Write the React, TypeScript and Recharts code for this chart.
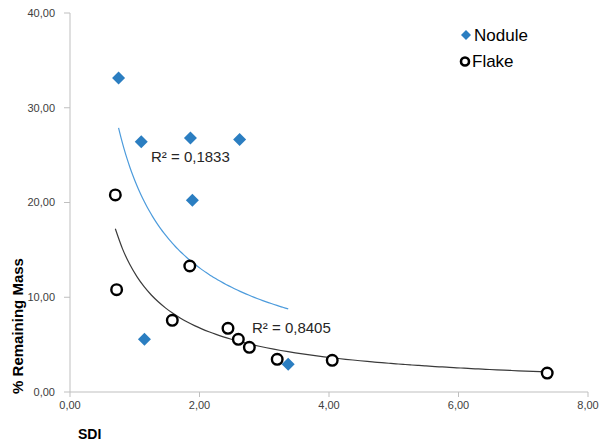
import { Scatter, ScatterChart, XAxis, YAxis } from 'recharts'

// SDI vs % remaining mass
const noduleSdi = [0.75, 1.1, 1.86, 2.62, 1.89, 1.15, 3.37]
const noduleMass = [33.15, 26.4, 26.8, 26.65, 20.25, 5.56, 2.92]
const flakeSdi = [0.7, 0.72, 1.85, 1.58, 2.44, 2.6, 2.77, 3.2, 4.05, 7.37]
const flakeMass = [20.8, 10.8, 13.3, 7.56, 6.72, 5.56, 4.71, 3.45, 3.34, 2.0]
const xTicks = [0, 2, 4, 6, 8]
const yTicks = [0, 10, 20, 30, 40]
const noduleR2 = 'R² = 0,1833'
const flakeR2 = 'R² = 0,8405'

const BLUE = '#2B7EC1'
const BLUE_LINE = '#4C9BDC'
const INK = '#000000'
const FONT = '"Liberation Sans", Arial, sans-serif'

type Pt = { x: number; y: number }

const toPoints = (xs: number[], ys: number[]): Pt[] =>
  xs.map((x, i) => ({ x, y: ys[i] }))

// Excel-style power trendline: least squares on ln(x), ln(y)
function powerTrend(pts: Pt[], steps = 60): Pt[] {
  const lx = pts.map((p) => Math.log(p.x))
  const ly = pts.map((p) => Math.log(p.y))
  const mx = lx.reduce((s, v) => s + v, 0) / lx.length
  const my = ly.reduce((s, v) => s + v, 0) / ly.length
  let sxy = 0
  let sxx = 0
  lx.forEach((v, i) => {
    sxy += (v - mx) * (ly[i] - my)
    sxx += (v - mx) * (v - mx)
  })
  const b = sxy / sxx
  const a = Math.exp(my - b * mx)
  const lo = Math.min(...pts.map((p) => p.x))
  const hi = Math.max(...pts.map((p) => p.x))
  const out: Pt[] = []
  for (let i = 0; i <= steps; i++) {
    const x = lo + ((hi - lo) * i) / steps
    out.push({ x, y: a * Math.pow(x, b) })
  }
  return out
}

const nodule = toPoints(noduleSdi, noduleMass)
const flake = toPoints(flakeSdi, flakeMass)
const noduleTrend = powerTrend(nodule)
const flakeTrend = powerTrend(flake)

const fmt = (v: number) => v.toFixed(2).replace('.', ',')

const Diamond = ({ cx, cy, r = 6.5 }: any) => (
  <polygon
    points={`${cx},${cy - r} ${cx + r},${cy} ${cx},${cy + r} ${cx - r},${cy}`}
    fill={BLUE}
  />
)

const Ring = ({ cx, cy, r = 5.3 }: any) => (
  <circle cx={cx} cy={cy} r={r} fill='#fff' stroke={INK} strokeWidth={2.4} />
)

const NoShape = () => <g />

export default function App() {
  return (
    <div style={{ position: 'absolute', left: 0, top: 0, width: 599, height: 444 }}>
      <ScatterChart
        width={599}
        height={444}
        margin={{ top: 13, right: 11, bottom: 22, left: 10 }}
        style={{ fontFamily: FONT }}
      >
        <XAxis
          type='number'
          dataKey='x'
          domain={[0, 8]}
          ticks={xTicks}
          tickFormatter={fmt}
          height={30}
          tickSize={5}
          tickMargin={4}
          stroke='#BFBFBF'
          tick={{ fill: '#404040', fontSize: 11 }}
          allowDataOverflow
        />
        <YAxis
          type='number'
          dataKey='y'
          domain={[0, 40]}
          ticks={yTicks}
          tickFormatter={fmt}
          width={60}
          tickSize={6}
          tickMargin={9}
          stroke='#BFBFBF'
          tick={{ fill: '#404040', fontSize: 11 }}
        />
        <Scatter
          name='Nodule trend'
          data={noduleTrend}
          line={{ stroke: BLUE_LINE, strokeWidth: 1.2 }}
          lineJointType='monotoneX'
          shape={NoShape}
          legendType='none'
          isAnimationActive={false}
        />
        <Scatter
          name='Flake trend'
          data={flakeTrend}
          line={{ stroke: '#3A3A3A', strokeWidth: 1.2 }}
          lineJointType='monotoneX'
          shape={NoShape}
          legendType='none'
          isAnimationActive={false}
        />
        <Scatter name='Nodule' data={nodule} shape={Diamond} isAnimationActive={false} />
        <Scatter name='Flake' data={flake} shape={Ring} isAnimationActive={false} />
      </ScatterChart>
      <svg
        width={599}
        height={444}
        style={{ position: 'absolute', left: 0, top: 0, pointerEvents: 'none', fontFamily: FONT }}
      >
        {/* legend */}
        <Diamond cx={466} cy={35} r={5} />
        <text x={474} y={41} fontSize={17} fill='#000'>
          Nodule
        </text>
        <circle cx={465} cy={61.5} r={4} fill='#fff' stroke={INK} strokeWidth={2.6} />
        <text x={472} y={67} fontSize={17} fill='#000'>
          Flake
        </text>
        {/* trendline labels */}
        <text x={151} y={162} fontSize={15} fill='#262626'>
          {noduleR2}
        </text>
        <text x={252} y={333} fontSize={15} fill='#262626'>
          {flakeR2}
        </text>
        {/* axis titles */}
        <text x={78} y={439} fontSize={14} fontWeight='bold' fill='#000'>
          SDI
        </text>
        <text
          x={0}
          y={0}
          fontSize={15}
          fontWeight='bold'
          fill='#000'
          textAnchor='middle'
          transform='translate(23 326) rotate(-90)'
        >
          % Remaining Mass
        </text>
      </svg>
    </div>
  )
}
